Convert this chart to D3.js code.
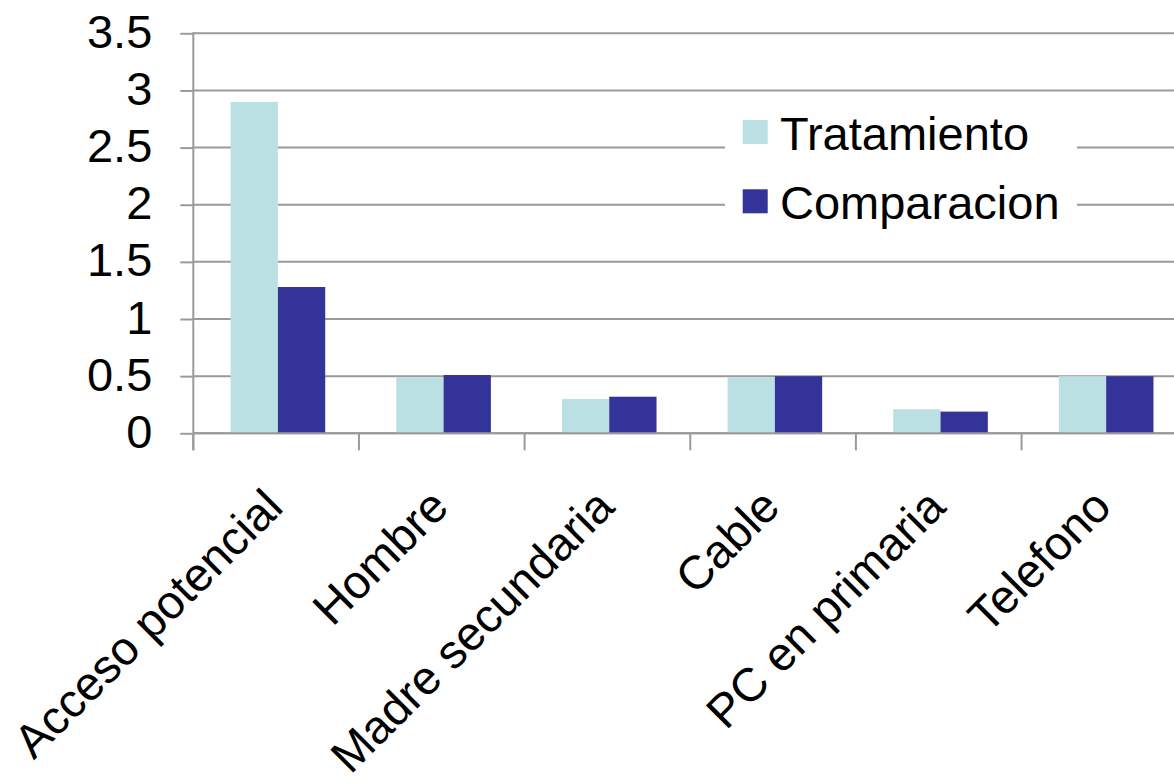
<!DOCTYPE html>
<html>
<head>
<meta charset="utf-8">
<script src="https://cdn.jsdelivr.net/npm/d3@7"></script>
<style>
  html, body { margin: 0; padding: 0; background: #ffffff; }
  svg { display: block; font-family: "Liberation Sans", Arial, sans-serif; }
</style>
</head>
<body>
<svg id="chart" width="1174" height="779"></svg>
<script>
// Categories and series values
const categories = ["Acceso potencial", "Hombre", "Madre secundaria", "Cable", "PC en primaria", "Telefono"];
const seriesNames = ["Tratamiento", "Comparacion"];
const tratamiento = [2.90, 0.49, 0.30, 0.49, 0.21, 0.50];
const comparacion = [1.28, 0.51, 0.32, 0.50, 0.19, 0.50];
const yTicks = [0, 0.5, 1, 1.5, 2, 2.5, 3, 3.5];
const colors = ["#BBE0E3", "#333399"];

const svg = d3.select("#chart");
const left = 193.3, zeroY = 433.3, topY = 33.3, bandW = 165.65;
const right = left + bandW * categories.length;

const x = d3.scaleBand().domain(categories).range([left, right]).paddingInner(0).paddingOuter(0);
const y = d3.scaleLinear().domain([0, 3.5]).range([zeroY, topY]);
const barW = 47.3;
const groupShift = 1.8;
const xSeries = d3.scaleBand().domain(seriesNames)
  .range([x.bandwidth() / 2 - barW + groupShift, x.bandwidth() / 2 + barW + groupShift]);

const gridColor = "#9a9a9a";

// Horizontal gridlines
svg.append("g").selectAll("line").data(yTicks).join("line")
  .attr("x1", left).attr("x2", right)
  .attr("y1", d => y(d)).attr("y2", d => y(d))
  .attr("stroke", gridColor).attr("stroke-width", 2);

// Y axis with tick marks pointing left
const yAxis = d3.axisLeft(y).tickValues(yTicks).tickSize(13).tickPadding(28)
  .tickFormat(d => String(d));
const gy = svg.append("g").attr("transform", `translate(${left},0)`).call(yAxis);
gy.select(".domain").remove();
gy.selectAll(".tick line").attr("stroke", gridColor).attr("stroke-width", 2);
gy.selectAll(".tick text")
  .attr("font-size", 47).attr("fill", "#000").attr("dy", "0.30em")
  .attr("font-family", "'Liberation Sans', Arial, sans-serif");
svg.append("line")
  .attr("x1", left).attr("x2", left)
  .attr("y1", topY - 1).attr("y2", zeroY + 17)
  .attr("stroke", gridColor).attr("stroke-width", 2);

// Category boundary tick marks below the baseline
const boundaries = d3.range(categories.length + 1).map(i => left + i * bandW);
svg.append("g").selectAll("line").data(boundaries).join("line")
  .attr("x1", d => d).attr("x2", d => d)
  .attr("y1", zeroY).attr("y2", zeroY + 17)
  .attr("stroke", gridColor).attr("stroke-width", 2);

// Bars
const rows = categories.map((c, i) => ({ cat: c, values: [tratamiento[i], comparacion[i]] }));
const groups = svg.append("g").selectAll("g").data(rows).join("g")
  .attr("transform", d => `translate(${x(d.cat)},0)`);
groups.selectAll("rect").data(d => d.values.map((v, k) => ({ name: seriesNames[k], v, k })))
  .join("rect")
  .attr("x", d => xSeries(d.name))
  .attr("width", xSeries.bandwidth())
  .attr("y", d => y(d.v))
  .attr("height", d => y(0) - y(d.v))
  .attr("fill", d => colors[d.k]);

// Baseline drawn over bar bottoms
svg.append("line")
  .attr("x1", left).attr("x2", right)
  .attr("y1", zeroY).attr("y2", zeroY)
  .attr("stroke", gridColor).attr("stroke-width", 2);

// Rotated category labels
svg.append("g").selectAll("text").data(categories).join("text")
  .attr("transform", d => `translate(${x(d) + x.bandwidth() / 2 + 9},${zeroY + 76}) rotate(-45)`)
  .attr("text-anchor", "end")
  .attr("font-size", 47)
  .attr("fill", "#000")
  .text(d => d);

// Legend
const legend = svg.append("g");
legend.append("rect")
  .attr("x", 725).attr("y", 100).attr("width", 352).attr("height", 145)
  .attr("fill", "#ffffff");
const items = legend.selectAll("g").data(seriesNames).join("g")
  .attr("transform", (d, i) => `translate(0,${i * 69.3})`);
items.append("rect")
  .attr("x", 742.7).attr("y", 120).attr("width", 25).attr("height", 24)
  .attr("fill", (d, i) => colors[i]);
items.append("text")
  .attr("x", 780).attr("y", 149.5)
  .attr("font-size", 47).attr("fill", "#000")
  .text(d => d);
</script>
</body>
</html>
